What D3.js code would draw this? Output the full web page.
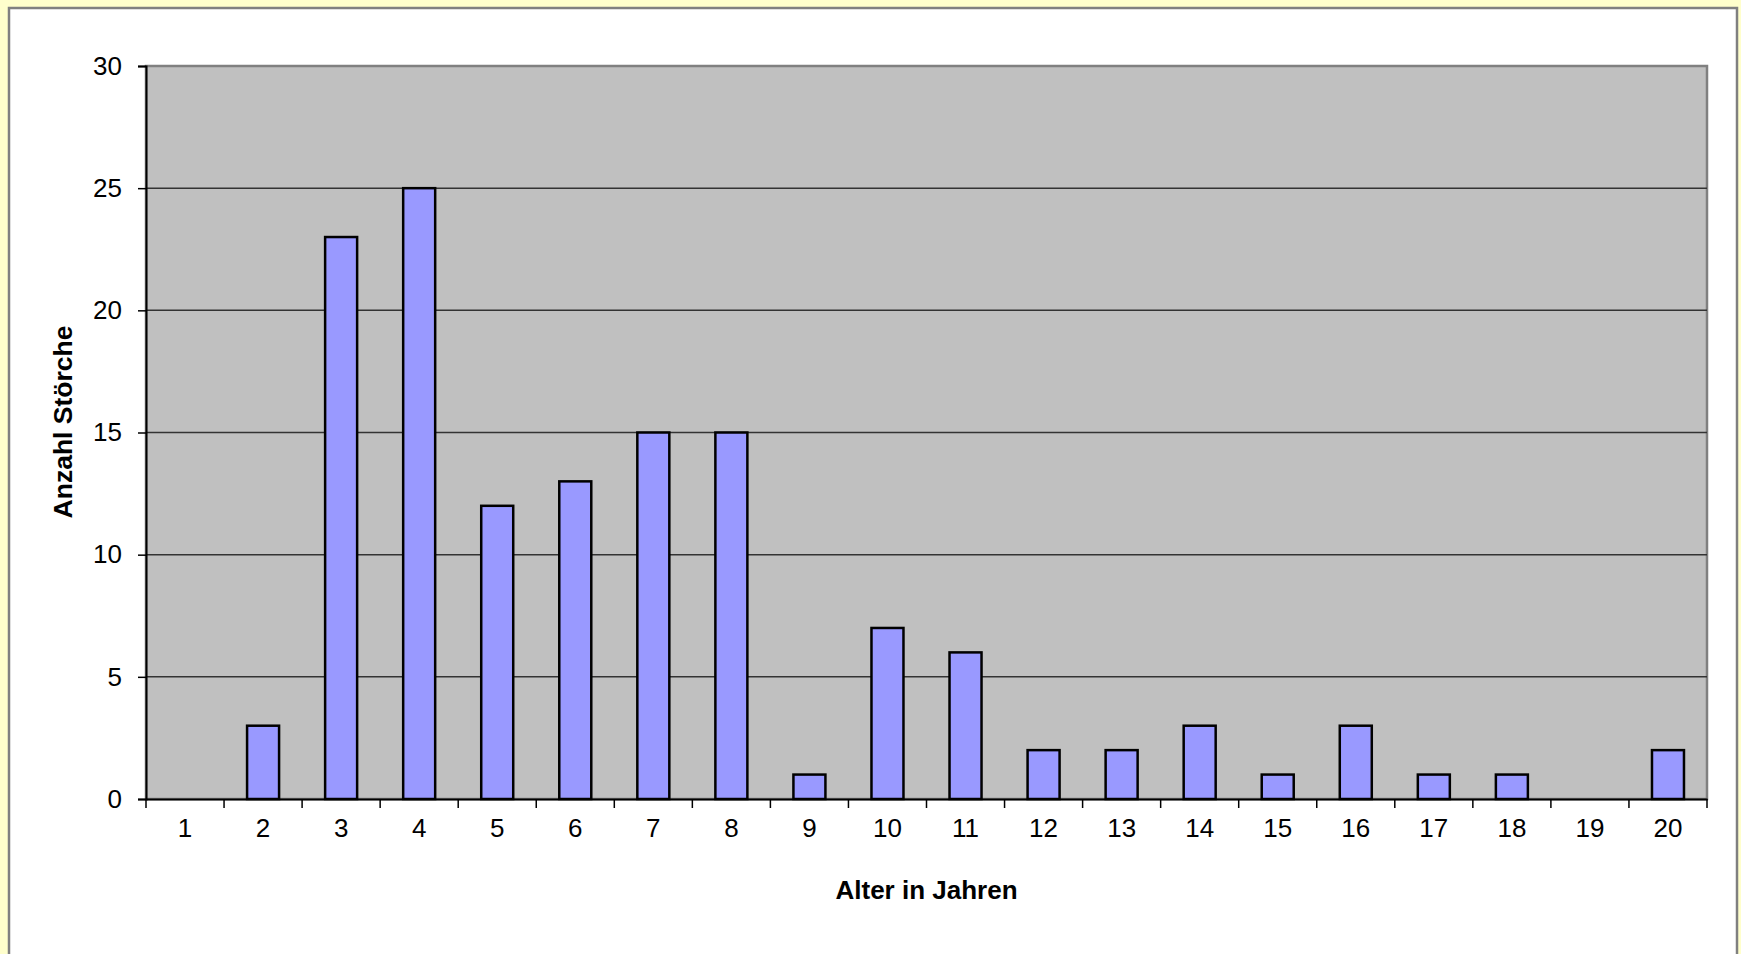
<!DOCTYPE html>
<html>
<head>
<meta charset="utf-8">
<style>
    body { margin: 0; background: #ffffcc; }
    svg { display: block; }
</style>
</head>
<body>
    <script src="https://cdn.jsdelivr.net/npm/d3@7"></script>
    <script type="text/javascript">
        // Alter in Jahren -> Anzahl Störche
        var ages = ["1", "2", "3", "4", "5", "6", "7", "8", "9", "10",
                    "11", "12", "13", "14", "15", "16", "17", "18", "19", "20"];
        var counts = [0, 3, 23, 25, 12, 13, 15, 15, 1, 7,
                      6, 2, 2, 3, 1, 3, 1, 1, 0, 2];
        var yTicks = [0, 5, 10, 15, 20, 25, 30];

        var svgWidth = 1741, svgHeight = 954;
        var plot = { left: 146, top: 66, right: 1707, bottom: 799 };
        var font = "'Liberation Sans', Arial, sans-serif";

        var items = counts.map(function (c, i) { return { age: ages[i], count: c }; });

        var svg = d3.select('body')
            .append('svg')
            .attr('width', svgWidth)
            .attr('height', svgHeight);

        // white chart area with grey frame
        svg.append('rect')
            .attr('x', 9).attr('y', 8)
            .attr('width', 1728).attr('height', 960)
            .attr('fill', '#ffffff')
            .attr('stroke', '#808080')
            .attr('stroke-width', 2.5);

        var x = d3.scaleBand()
            .domain(ages)
            .range([plot.left, plot.right])
            .paddingInner(0.59)
            .paddingOuter(0.295);

        var xOuter = d3.scaleBand()
            .domain(ages)
            .range([plot.left, plot.right]);

        var y = d3.scaleLinear()
            .domain([0, 30])
            .range([plot.bottom, plot.top]);

        // plot background
        svg.append('rect')
            .attr('x', plot.left).attr('y', plot.top)
            .attr('width', plot.right - plot.left)
            .attr('height', plot.bottom - plot.top)
            .attr('fill', '#c0c0c0')
            .attr('stroke', '#808080')
            .attr('stroke-width', 2.5);

        // gridlines
        svg.selectAll('line.grid')
            .data(yTicks.filter(function (d) { return d > 0 && d < 30; }))
            .enter()
            .append('line')
            .attr('class', 'grid')
            .attr('x1', plot.left).attr('x2', plot.right)
            .attr('y1', function (d) { return y(d); })
            .attr('y2', function (d) { return y(d); })
            .attr('stroke', '#333333')
            .attr('stroke-width', 1.5);

        // bars (empty categories get no bar)
        svg.selectAll('rect.bar')
            .data(items.filter(function (d) { return d.count > 0; }))
            .enter()
            .append('rect')
            .attr('class', 'bar')
            .attr('x', function (d) { return x(d.age); })
            .attr('y', function (d) { return y(d.count); })
            .attr('width', x.bandwidth())
            .attr('height', function (d) { return y(0) - y(d.count); })
            .attr('fill', '#9999ff')
            .attr('stroke', '#000000')
            .attr('stroke-width', 2.5);

        // y axis
        var yAxis = svg.append('g')
            .attr('transform', 'translate(' + plot.left + ',0)')
            .call(d3.axisLeft(y).tickValues(yTicks).tickSize(8).tickPadding(16));
        yAxis.select('.domain').attr('stroke', '#000').attr('stroke-width', 2);
        yAxis.selectAll('.tick line').attr('stroke', '#000').attr('stroke-width', 1.5);
        yAxis.selectAll('text')
            .attr('font-family', font).attr('font-size', 26).attr('fill', '#000');

        // x axis: ticks on category boundaries
        var xAxis = svg.append('g')
            .attr('transform', 'translate(0,' + plot.bottom + ')')
            .call(d3.axisBottom(xOuter).tickSize(0).tickPadding(20));
        xAxis.select('.domain').attr('stroke', '#000').attr('stroke-width', 2);
        xAxis.selectAll('text')
            .attr('font-family', font).attr('font-size', 26).attr('fill', '#000');

        var bounds = ages.map(function (a) { return xOuter(a); }).concat([plot.right]);
        xAxis.selectAll('line.sep')
            .data(bounds)
            .enter()
            .append('line')
            .attr('class', 'sep')
            .attr('x1', function (d) { return d; })
            .attr('x2', function (d) { return d; })
            .attr('y1', 0).attr('y2', 9)
            .attr('stroke', '#000')
            .attr('stroke-width', 1.5);

        // axis titles
        svg.append('text')
            .attr('x', (plot.left + plot.right) / 2)
            .attr('y', 899)
            .attr('text-anchor', 'middle')
            .attr('font-family', font)
            .attr('font-size', 26)
            .attr('font-weight', 'bold')
            .text('Alter in Jahren');

        svg.append('text')
            .attr('transform', 'translate(72,422) rotate(-90)')
            .attr('text-anchor', 'middle')
            .attr('font-family', font)
            .attr('font-size', 26.5)
            .attr('font-weight', 'bold')
            .text('Anzahl Störche');
    </script>
</body>
</html>
